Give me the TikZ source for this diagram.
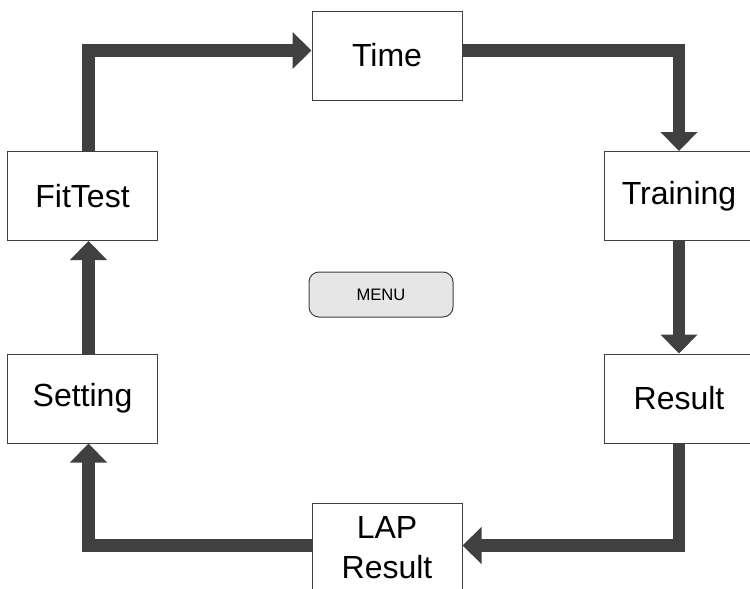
\documentclass[tikz,border=0pt]{standalone}
\usepackage{fontspec}
\setmainfont{Liberation Sans}
\usetikzlibrary{arrows.meta}
\definecolor{flowgray}{HTML}{404040}
\definecolor{menugray}{HTML}{E6E6E6}
\begin{document}
\begin{tikzpicture}[x=0.5pt, y=-0.5pt]
    \tikzset{box/.style={draw=black!75, line width=0.5pt, minimum width=75pt, minimum height=44.5pt, inner sep=0pt, align=center, font=\fontsize{16}{20}\selectfont}}
    \tikzset{menubox/.style={draw=black!75, fill=menugray, line width=0.5pt, rounded corners=5pt, minimum width=72pt, minimum height=22.5pt, inner sep=0pt, font=\fontsize{8.3}{10}\selectfont}}
    \tikzset{flow/.style={draw=flowgray, line width=6.25pt, line join=miter, -{Triangle[length=9.5pt, width=18pt]}}}
    \clip (0,0) rectangle (750,589);

    \node[box] (Time) at (387,55.5) {Time};
    \node[box] (FitTest) at (82.5,196) {FitTest};
    \node[box] (Training) at (679,196) {Training};
    \node[box] (Setting) at (82.5,398.5) {Setting};
    \node[box] (Result) at (679,398.5) {Result};
    \node[box] (LAP) at (387,547.5) {LAP\\Result};
    \node[menubox] (Menu) at (381,294.5) {MENU};

    \draw[flow] ([xshift=3pt]FitTest.north) |- ([yshift=2.5pt]Time.west);
    \draw[flow] ([yshift=2.5pt]Time.east) -| (Training.north);
    \draw[flow] (Training.south) -- (Result.north);
    \draw[flow] (Result.south) |- ([yshift=1pt]LAP.east);
    \draw[flow] ([yshift=1pt]LAP.west) -| ([xshift=3pt]Setting.south);
    \draw[flow] ([xshift=3pt]Setting.north) -- ([xshift=3pt]FitTest.south);
\end{tikzpicture}
\end{document}
